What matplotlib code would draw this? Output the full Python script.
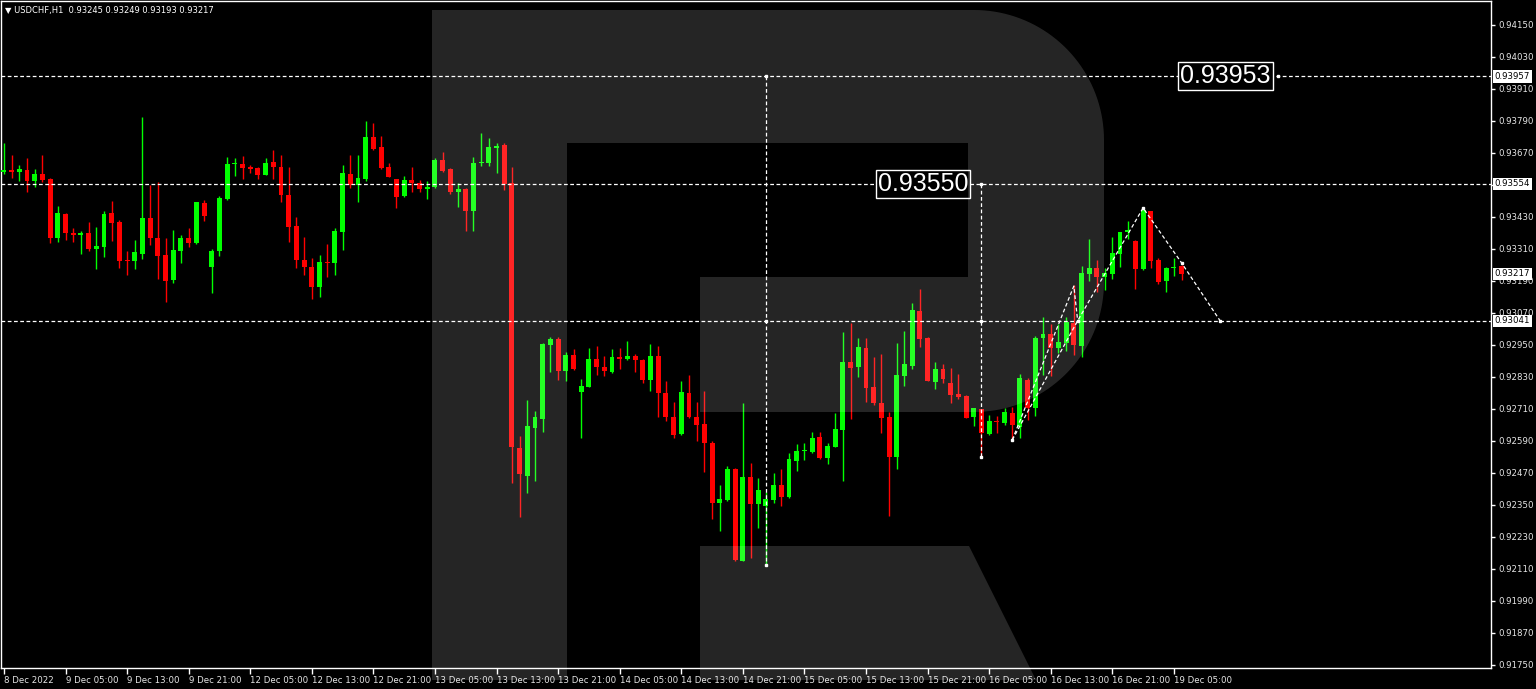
import matplotlib
matplotlib.use("Agg")
import matplotlib.pyplot as plt
from matplotlib.patches import Polygon
import numpy as np

# USDCHF H1 candles, 8 Dec 2022 21:00 .. 19 Dec 2022 06:00
opens = [0.93600, 0.93606, 0.93600, 0.93606, 0.93566, 0.93591, 0.93572, 0.93350, 0.93441, 0.93369,
         0.93361, 0.93369, 0.93311, 0.93319, 0.93446, 0.93411, 0.93269, 0.93266, 0.93291, 0.93425,
         0.93352, 0.93287, 0.93194, 0.93302, 0.93352, 0.93334, 0.93481, 0.93244, 0.93302, 0.93496,
         0.93628, 0.93629, 0.93616, 0.93613, 0.93589, 0.93636, 0.93619, 0.93512, 0.93396, 0.93269,
         0.93244, 0.93169, 0.93261, 0.93256, 0.93375, 0.93591, 0.93550, 0.93572, 0.93731, 0.93691,
         0.93616, 0.93571, 0.93509, 0.93569, 0.93556, 0.93534, 0.93544, 0.93644, 0.93609, 0.93524,
         0.93536, 0.93454, 0.93631, 0.93631, 0.93690, 0.93700, 0.93556, 0.92563, 0.92459, 0.92640,
         0.92671, 0.92949, 0.92972, 0.92852, 0.92912, 0.92775, 0.92794, 0.92898, 0.92869, 0.92848,
         0.92905, 0.92898, 0.92909, 0.92894, 0.92819, 0.92909, 0.92771, 0.92681, 0.92616, 0.92771,
         0.92681, 0.92654, 0.92581, 0.92359, 0.92369, 0.92485, 0.92141, 0.92454, 0.92354, 0.92347,
         0.92369, 0.92424, 0.92379, 0.92515, 0.92553, 0.92550, 0.92604, 0.92527, 0.92569, 0.92631,
         0.92886, 0.92866, 0.92938, 0.92794, 0.92734, 0.92681, 0.92531, 0.92834, 0.92872, 0.93078,
         0.92977, 0.92812, 0.92859, 0.92809, 0.92765, 0.92759, 0.92679, 0.92709, 0.92616, 0.92666,
         0.92659, 0.92694, 0.92644, 0.92819, 0.92713, 0.92975, 0.92991, 0.92940, 0.92959, 0.93034,
         0.92946, 0.93216, 0.93238, 0.93206, 0.93216, 0.93291, 0.93375, 0.93341, 0.93234, 0.93452,
         0.93269, 0.93190, 0.93238, 0.93245]
highs = [0.93706, 0.93662, 0.93625, 0.93650, 0.93609, 0.93662, 0.93575, 0.93471, 0.93446, 0.93388,
         0.93378, 0.93412, 0.93394, 0.93452, 0.93490, 0.93419, 0.93302, 0.93343, 0.93804, 0.93550,
         0.93562, 0.93352, 0.93381, 0.93362, 0.93388, 0.93487, 0.93494, 0.93310, 0.93509, 0.93656,
         0.93652, 0.93659, 0.93624, 0.93619, 0.93651, 0.93681, 0.93662, 0.93619, 0.93429, 0.93356,
         0.93275, 0.93287, 0.93329, 0.93388, 0.93624, 0.93662, 0.93662, 0.93790, 0.93781, 0.93734,
         0.93634, 0.93572, 0.93584, 0.93619, 0.93569, 0.93565, 0.93650, 0.93675, 0.93613, 0.93556,
         0.93539, 0.93654, 0.93744, 0.93725, 0.93706, 0.93706, 0.93619, 0.92609, 0.92744, 0.92703,
         0.92959, 0.92981, 0.92981, 0.92925, 0.92934, 0.92822, 0.92938, 0.92946, 0.92909, 0.92934,
         0.92938, 0.92966, 0.92916, 0.92896, 0.92953, 0.92947, 0.92815, 0.92735, 0.92815, 0.92838,
         0.92736, 0.92779, 0.92590, 0.92425, 0.92496, 0.92488, 0.92731, 0.92506, 0.92450, 0.92400,
         0.92469, 0.92484, 0.92544, 0.92579, 0.92581, 0.92623, 0.92623, 0.92581, 0.92694, 0.92999,
         0.93034, 0.92975, 0.92975, 0.92904, 0.92915, 0.92700, 0.92959, 0.93003, 0.93106, 0.93160,
         0.92980, 0.92887, 0.92879, 0.92863, 0.92841, 0.92762, 0.92715, 0.92709, 0.92688, 0.92685,
         0.92715, 0.92719, 0.92840, 0.92825, 0.92985, 0.93056, 0.93028, 0.93028, 0.93056, 0.93175,
         0.93246, 0.93346, 0.93269, 0.93238, 0.93356, 0.93375, 0.93415, 0.93344, 0.93469, 0.93452,
         0.93275, 0.93244, 0.93275, 0.93249]
lows = [0.93591, 0.93575, 0.93566, 0.93525, 0.93541, 0.93562, 0.93331, 0.93335, 0.93344, 0.93337,
        0.93291, 0.93304, 0.93234, 0.93279, 0.93340, 0.93238, 0.93212, 0.93234, 0.93274, 0.93325,
        0.93197, 0.93112, 0.93184, 0.93259, 0.93319, 0.93329, 0.93416, 0.93146, 0.93285, 0.93494,
        0.93584, 0.93574, 0.93596, 0.93574, 0.93586, 0.93574, 0.93487, 0.93337, 0.93238, 0.93212,
        0.93122, 0.93131, 0.93206, 0.93212, 0.93306, 0.93538, 0.93487, 0.93566, 0.93681, 0.93609,
        0.93579, 0.93465, 0.93506, 0.93525, 0.93525, 0.93498, 0.93540, 0.93600, 0.93516, 0.93469,
        0.93379, 0.93379, 0.93622, 0.93622, 0.93596, 0.93531, 0.92431, 0.92304, 0.92396, 0.92441,
        0.92625, 0.92849, 0.92819, 0.92815, 0.92856, 0.92602, 0.92791, 0.92838, 0.92834, 0.92845,
        0.92859, 0.92894, 0.92850, 0.92806, 0.92779, 0.92679, 0.92665, 0.92600, 0.92612, 0.92677,
        0.92590, 0.92475, 0.92296, 0.92254, 0.92366, 0.92141, 0.92141, 0.92152, 0.92263, 0.92125,
        0.92359, 0.92347, 0.92375, 0.92479, 0.92519, 0.92546, 0.92521, 0.92503, 0.92566, 0.92441,
        0.92671, 0.92831, 0.92737, 0.92725, 0.92621, 0.92309, 0.92485, 0.92797, 0.92859, 0.92941,
        0.92815, 0.92785, 0.92806, 0.92734, 0.92748, 0.92677, 0.92646, 0.92529, 0.92612, 0.92621,
        0.92650, 0.92594, 0.92600, 0.92669, 0.92685, 0.92838, 0.92834, 0.92921, 0.92929, 0.92912,
        0.92904, 0.93191, 0.93150, 0.93156, 0.93197, 0.93244, 0.93346, 0.93159, 0.93231, 0.93238,
        0.93179, 0.93150, 0.93209, 0.93193]
closes = [0.93606, 0.93600, 0.93610, 0.93566, 0.93591, 0.93569, 0.93350, 0.93444, 0.93371, 0.93364,
          0.93371, 0.93310, 0.93321, 0.93441, 0.93409, 0.93266, 0.93266, 0.93298, 0.93425, 0.93350,
          0.93285, 0.93191, 0.93306, 0.93352, 0.93331, 0.93485, 0.93434, 0.93302, 0.93502, 0.93629,
          0.93634, 0.93614, 0.93611, 0.93589, 0.93634, 0.93616, 0.93512, 0.93394, 0.93269, 0.93241,
          0.93169, 0.93261, 0.93256, 0.93378, 0.93594, 0.93549, 0.93575, 0.93731, 0.93685, 0.93613,
          0.93581, 0.93506, 0.93569, 0.93559, 0.93534, 0.93544, 0.93644, 0.93603, 0.93523, 0.93536,
          0.93454, 0.93634, 0.93636, 0.93692, 0.93696, 0.93554, 0.92569, 0.92466, 0.92646, 0.92679,
          0.92954, 0.92972, 0.92852, 0.92912, 0.92859, 0.92796, 0.92898, 0.92866, 0.92851, 0.92905,
          0.92898, 0.92909, 0.92894, 0.92819, 0.92909, 0.92771, 0.92681, 0.92612, 0.92775, 0.92679,
          0.92650, 0.92581, 0.92359, 0.92374, 0.92484, 0.92144, 0.92454, 0.92354, 0.92406, 0.92374,
          0.92424, 0.92379, 0.92521, 0.92554, 0.92556, 0.92600, 0.92527, 0.92572, 0.92634, 0.92886,
          0.92865, 0.92941, 0.92790, 0.92734, 0.92677, 0.92531, 0.92836, 0.92879, 0.93081, 0.92971,
          0.92816, 0.92859, 0.92824, 0.92761, 0.92756, 0.92677, 0.92715, 0.92619, 0.92666, 0.92662,
          0.92700, 0.92650, 0.92825, 0.92713, 0.92977, 0.92991, 0.92940, 0.92962, 0.93037, 0.92950,
          0.93219, 0.93238, 0.93206, 0.93219, 0.93294, 0.93373, 0.93381, 0.93234, 0.93456, 0.93266,
          0.93187, 0.93240, 0.93244, 0.93217]

time_labels = ["8 Dec 2022", "9 Dec 05:00", "9 Dec 13:00", "9 Dec 21:00", "12 Dec 05:00",
               "12 Dec 13:00", "12 Dec 21:00", "13 Dec 05:00", "13 Dec 13:00", "13 Dec 21:00",
               "14 Dec 05:00", "14 Dec 13:00", "14 Dec 21:00", "15 Dec 05:00", "15 Dec 13:00",
               "15 Dec 21:00", "16 Dec 05:00", "16 Dec 13:00", "16 Dec 21:00", "19 Dec 05:00"]
price_ticks = [0.91750, 0.91870, 0.91990, 0.92110, 0.92230, 0.92350, 0.92470, 0.92590,
               0.92710, 0.92830, 0.92950, 0.93070, 0.93190, 0.93310, 0.93430, 0.93550,
               0.93670, 0.93790, 0.93910, 0.94030, 0.94150]
hidden_ticks = [0.93550]  # fully covered by the 0.93554 price box
levels = [0.93957, 0.93554, 0.93041]
axis_marks = [0.93957, 0.93554, 0.93217, 0.93041]
header = "\u25bc USDCHF,H1  0.93245 0.93249 0.93193 0.93217"

# measuring lines (bar, top price, low price)
measure_bars = [99, 127]
measure_top = [0.93957, 0.93554]
measure_low = [0.92125, 0.92529]

# forecast path
fc_bars = [131, 139.5, 148, 153, 158]
fc_prices = [0.92594, 0.93041, 0.93464, 0.93258, 0.93041]
side_bars = [131, 139, 139.5]
side_prices = [0.92594, 0.93171, 0.93041]

W, H = 1536, 689
fig = plt.figure(figsize=(W / 100, H / 100), dpi=100, facecolor="black")
ax = fig.add_axes([1 / W, 21 / H, 1490 / W, 667 / H])
ax.set_facecolor("black")

o = np.array(opens)
h = np.array(highs)
l = np.array(lows)
c = np.array(closes)
x = np.arange(len(o))
cols = np.where(c >= o, "#00ff00", "#ff0000")

ax.vlines(x, l, h, colors=cols, lw=1, zorder=3)
body = np.maximum(np.abs(c - o), 0.00003)
ax.bar(x, body, bottom=np.minimum(o, c), width=0.64, color=cols, lw=0, zorder=4)

dash = (0, (3, 2))
for lv in levels:
    ax.axhline(lv, color="white", lw=0.9, ls=dash, zorder=5)

for b, t, lo in zip(measure_bars, measure_top, measure_low):
    ax.plot([b, b], [t, lo], color="white", lw=0.9, ls=dash, zorder=5)
    ax.plot([b, b, b], [t, levels[2], lo], ls="none", marker="s", ms=1.8,
            color="white", zorder=6)

ax.plot(fc_bars, fc_prices, color="white", lw=0.9, ls=dash, zorder=5)
ax.plot(side_bars, side_prices, color="white", lw=0.9, ls=dash, zorder=5)
ax.plot(fc_bars, fc_prices, ls="none", marker="s", ms=1.8, color="white", zorder=6)
ax.plot([165.5], [0.93957], ls="none", marker="s", ms=1.8, color="white", zorder=6)

big = dict(ha="right", va="center", color="white", fontsize=18,
           family=["Liberation Sans", "DejaVu Sans"], zorder=8,
           bbox=dict(boxstyle="square,pad=0.08", fc="black", ec="white", lw=1))
ax.text(125.3, 0.93554, "0.93550", **big)
ax.text(164.6, 0.93957, "0.93953", **big)

ax.set_xlim(-0.38, 193.2)
ax.set_ylim(0.9173875, 0.9424)

ax.yaxis.tick_right()
ax.set_yticks(price_ticks)
ax.set_yticklabels(["" if p in hidden_ticks else f"{p:.5f}" for p in price_ticks])
ax.set_xticks(np.arange(len(time_labels)) * 8)
ax.set_xticklabels(time_labels, ha="left")
ax.tick_params(axis="y", colors="white", labelcolor="#e6e6e6", length=3, width=1,
               pad=2, labelsize=6.2)
ax.tick_params(axis="x", colors="white", labelcolor="#e6e6e6", length=4, width=1,
               pad=1.5, labelsize=6.2)
for s in ax.spines.values():
    s.set_color("white")
    s.set_linewidth(1)

for lv in axis_marks:
    ax.text(1.0025, lv, f"{lv:.5f}", transform=ax.get_yaxis_transform(), ha="left",
            va="center", fontsize=6.2, color="black", clip_on=False, zorder=10,
            bbox=dict(boxstyle="square,pad=0.18", fc="white", ec="white", lw=0))

fig.text(5 / W, 1 - 10 / H, header, color="white", fontsize=6, ha="left", va="center")

# translucent "R" watermark drawn over the chart
lax = fig.add_axes([0, 0, 1, 1], zorder=5)
lax.set_xlim(0, W)
lax.set_ylim(H, 0)
lax.axis("off")
lax.patch.set_alpha(0)


def arc(cx, cy, r, a0, a1, k=40):
    t = np.radians(np.linspace(a0, a1, k))
    return np.column_stack([cx + r * np.cos(t), cy - r * np.sin(t)])


bowl = np.vstack([[[432, 10], [974, 10]], arc(974, 140, 130, 90, 0), [[1104, 282]],
                  arc(974, 282, 130, 0, -90),
                  [[700, 412], [700, 277], [968, 277], [968, 143], [567, 143],
                   [567, 680], [432, 680]]])
leg = np.array([[700, 546], [969, 546], [1036, 680], [700, 680]])
for pts in (bowl, leg):
    lax.add_patch(Polygon(pts, closed=True, fc="white", alpha=0.15, lw=0))

fig.savefig("out.png", dpi=100, facecolor="black")
